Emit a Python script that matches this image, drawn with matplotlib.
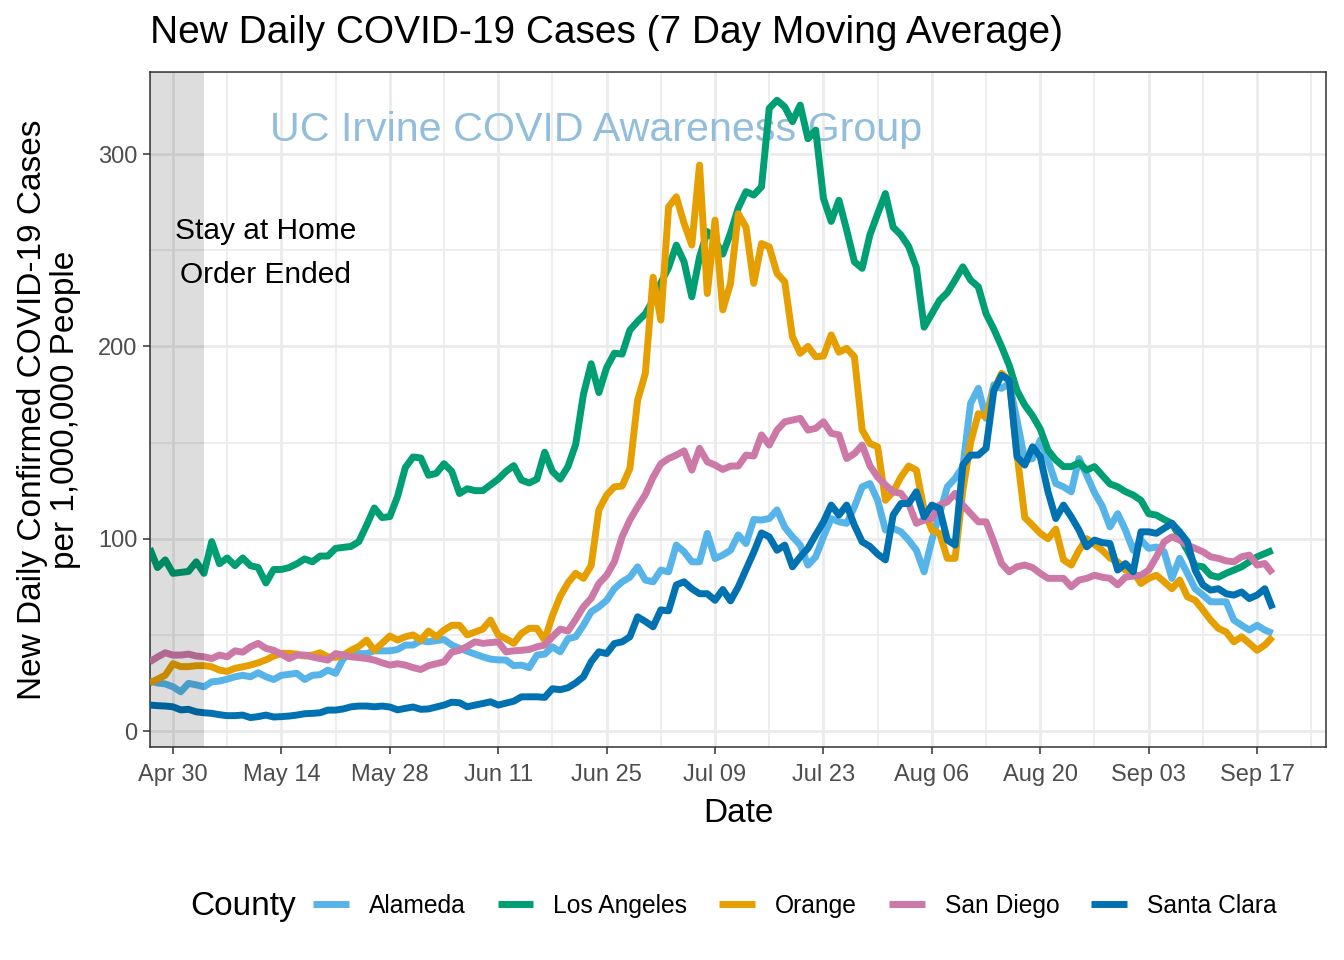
import numpy as np
import pandas as pd
import matplotlib
matplotlib.use("Agg")
import matplotlib.pyplot as plt
import matplotlib.dates as mdates
from matplotlib.lines import Line2D

plt.rcParams['font.family'] = ['Liberation Sans', 'DejaVu Sans']

# ---------------- data (daily, 2020-04-27 .. 2020-09-19) ----------------
start_date = "2020-04-27"
counties = ["Alameda", "Los Angeles", "Orange", "San Diego", "Santa Clara"]
colors = ["#56B4E9", "#009E73", "#E69F00", "#CC79A7", "#0072B2"]

alameda = [26, 25, 24.5, 23, 20.4, 24.8, 24, 23, 25.6, 26, 27, 28.2, 29, 28.2, 30.3, 28.2, 26.8, 29, 29.5, 30,
           26.8, 29, 29.3, 31.7, 30, 37.7, 40.3, 40.3, 40.3, 41.7, 41.7, 41.7, 42.4, 44.7, 44.7, 47, 46.4, 47, 47.6, 44.7,
           43, 41.5, 40, 38.6, 37.4, 37, 36.9, 34, 34.3, 33, 39.5, 40, 43.8, 41.2, 48, 49, 55, 62, 64.6, 68,
           74, 77.6, 80, 85.4, 78.5, 77.6, 83.7, 82.8, 96.7, 93.2, 88, 88, 102.8, 89.7, 91.5, 94, 102, 97.5, 110, 109.7,
           110.5, 115, 106, 101, 96.7, 86.3, 90.6, 101, 110.5, 108.8, 108, 116.6, 127, 128.7, 120, 104.5, 105.4, 103.6, 99.3, 94,
           82.8, 99.3, 113, 127, 131.4, 137.4, 170.4, 178.2, 162.6, 180, 178.2, 180.8, 161.7, 141, 141.7, 151.3, 141, 128.7, 127, 124.4,
           141.7, 133, 124, 117, 106.2, 113, 104.5, 94, 99.3, 95, 95.7, 93.2, 79.4, 89.8, 82, 74, 70.7, 67.2, 67.2, 67.2,
           57.7, 55, 52.5, 55, 52.5, 50.8]

los_angeles = [95, 85, 89, 82, 82.5, 83, 88, 82, 98.5, 87, 90, 86, 90, 86, 85, 77, 84, 84, 85, 87,
               89.5, 88, 91, 91, 95, 95.5, 96, 98.5, 107, 116, 111, 111.5, 122, 137, 142.5, 142, 133, 134, 139, 135,
               123.5, 126, 125, 125, 128, 131, 135, 138, 130.5, 129, 131, 145, 135, 131, 137.5, 149, 175, 191, 176, 189,
               196.5, 196, 208.5, 213, 217, 224, 233, 241, 252.7, 244, 225.8, 246.6, 259.7, 255, 248, 259, 272, 280.5, 278.7, 283,
               323.8, 328, 324.6, 316.9, 325.5, 308, 312.5, 277, 265, 276, 260.5, 244, 240.6, 258, 269, 279.5, 262, 258, 252, 241,
               210, 217, 224, 228, 234.5, 241.4, 234.5, 231, 217, 209, 200, 190, 177, 169.5, 164, 157, 146, 141, 137.5, 137.5,
               139.5, 135.7, 137.5, 133, 128.5, 127, 124.5, 122.7, 120, 113, 112.3, 110, 108, 101, 94, 86, 85.4, 81, 80, 82,
               83.7, 85.4, 88, 90.6, 92.3, 94]

orange = [25, 27, 29, 35, 33.5, 33.5, 34, 34, 33.4, 31.7, 31, 32.6, 33.4, 34.3, 35.5, 37, 39, 40.4, 40.4, 40,
          39, 39.5, 40.7, 38.6, 38.3, 39.5, 42, 44, 47.3, 42, 45.6, 49.4, 47.3, 49, 50, 47.3, 52, 49, 52.5, 55,
          55, 50, 51.5, 53, 57.7, 50, 48, 45.6, 50.8, 53.4, 53.4, 47.3, 60, 70, 77, 82, 79.4, 86, 115, 122.7,
          127, 127.4, 136.5, 172, 186, 236, 213.7, 272.6, 277.8, 264, 252.7, 294.3, 227.5, 265.7, 219, 232.8, 269, 262, 232.8, 253.5,
          251.8, 238, 233.6, 205, 196.4, 200, 194.6, 195, 206, 197, 199, 194.6, 156.5, 149.5, 147.8, 120, 124.4, 132, 137.8, 135.7,
          115, 104.5, 102.8, 89.8, 89.8, 125, 150, 165, 163.4, 177, 186, 182.5, 144, 111, 107, 102.8, 100, 105, 89, 86.3,
          94, 100, 97, 94, 90, 88, 83.7, 82.8, 76.7, 79.4, 81, 77.6, 74, 78.5, 69.8, 68, 63, 57.7, 53.4, 51.5,
          46.4, 49, 45.6, 42, 44.7, 49]

san_diego = [36, 38.5, 40.7, 39.5, 39.5, 40, 39, 38.6, 37.7, 39.5, 38.6, 41.7, 41, 43.8, 45.6, 43, 42, 40, 37.7, 39.5,
             39.5, 38.5, 37.7, 36.9, 40.3, 39.5, 38.6, 38.2, 37.7, 36.9, 35.5, 34.3, 35, 34.3, 33, 32, 34, 35, 36, 41,
             42, 44, 46.4, 45.6, 46, 46.4, 41.2, 41.7, 42, 42.4, 43.8, 44.7, 49, 53, 52, 58, 64.6, 69, 76.7, 81,
             88, 101, 109.7, 116.6, 123, 132, 139, 141.7, 143.5, 145.7, 135.7, 147, 140, 138.3, 136, 137.8, 137.8, 143.5, 143, 154,
             148.7, 156.5, 160.8, 161.7, 162.6, 156.5, 157.4, 160.8, 154.8, 154, 141.7, 144.3, 148.7, 138, 132, 128, 124.4, 123.6, 118.3, 108,
             109.7, 110.5, 117.5, 119.2, 123.6, 117.5, 113.1, 108.8, 108.8, 98.4, 87.1, 82.8, 85.4, 86.3, 85, 82, 79.4, 79.4, 79.4, 75,
             78.5, 79.4, 81, 80, 79.4, 76, 80, 80.6, 81, 83.7, 90.6, 98.4, 101, 99.3, 96.7, 95, 93.2, 90.6, 89.8, 88.5,
             88, 90.6, 91.5, 86.3, 87.1, 82]

santa_clara = [13.5, 13.2, 13, 12.6, 11, 11.3, 10, 9.5, 9.2, 8.5, 8, 8, 8.3, 7, 7.5, 8.3, 7.3, 7.5, 7.8, 8.3,
               9, 9.2, 9.5, 10.9, 10.9, 11.5, 12.6, 13, 13, 12.6, 13, 12.5, 11, 11.8, 12.5, 11.3, 11.5, 12.5, 13.5, 15,
               14.7, 12.6, 13.5, 14.3, 15.2, 13.5, 14.5, 15.5, 17.8, 17.8, 17.8, 17.5, 22, 21.5, 22.5, 25, 28.2, 36, 41.2, 40.3,
               45.5, 46.4, 49, 59.4, 57, 54.2, 63, 62.5, 76, 77.6, 74, 71.4, 71.4, 68, 73.6, 67.7, 75, 84, 93, 103,
               101, 94, 96.7, 85.4, 90.6, 95, 102, 108.8, 117.5, 112.3, 117.5, 107, 98.4, 96, 92, 89, 112.3, 118.3, 118.3, 124.4,
               111.4, 117.5, 115.7, 99.3, 96.7, 138.3, 143.5, 143.5, 147, 177, 185, 182.5, 142.6, 138.3, 147.8, 142.6, 124.4, 110.5, 117.5, 111.4,
               104.5, 95.8, 99.3, 98, 97.5, 83.7, 87.1, 82.8, 103.6, 103.6, 102.8, 105.4, 108, 103.6, 98.4, 83.7, 76, 73.3, 74, 71.4,
               70.7, 72.3, 68.9, 70.7, 74, 63.7]

series = [alameda, los_angeles, orange, san_diego, santa_clara]

first_tick = "2020-04-30"
last_tick = "2020-09-17"
tick_step_days = 14
order_end = "2020-05-04"
annotation_text = "Stay at Home\nOrder Ended"
annotation_pos = ("2020-05-12", 248.5)
watermark_text = "UC Irvine COVID Awareness Group"
watermark_pos = ("2020-06-23 14:00", 312.5)

# ---------------- figure ----------------
W, H = 1344, 960
fig = plt.figure(figsize=(W / 100, H / 100), dpi=100)
L, R, T, B = 150, 1326, 72, 747
ax = fig.add_axes([L / W, 1 - B / H, (R - L) / W, (B - T) / H])

dates = pd.date_range(start_date, periods=len(alameda), freq="D")
for name, col, vals in zip(counties, colors, series):
    ax.plot(dates, vals, color=col, lw=5.0, solid_capstyle="butt",
            solid_joinstyle="round", zorder=3, label=name)

t0 = pd.Timestamp(first_tick)
day = pd.Timedelta(days=1)
xmin = t0 - 2.97 * day
xmax = t0 + 148.9 * day

# ticks (set before limits so limits are not expanded)
major_ticks = pd.date_range(first_tick, last_tick, freq=f"{tick_step_days}D")
minor_ticks = pd.date_range(t0 + 7 * day, "2020-09-24", freq=f"{tick_step_days}D")
ax.set_xticks(major_ticks)
ax.set_xticks(minor_ticks, minor=True)
ax.xaxis.set_major_formatter(mdates.DateFormatter("%b %d"))
ax.set_yticks([0, 100, 200, 300])
ax.set_yticks([50, 150, 250], minor=True)
ax.set_xlim(xmin, xmax)
ax.set_ylim(-8.3, 342.7)

# shaded period
ax.axvspan(xmin, pd.Timestamp(order_end), color="black", alpha=0.135, lw=0, zorder=4)

ax.grid(which="major", color="#EBEBEB", lw=2.0, zorder=0)
ax.grid(which="minor", color="#EBEBEB", lw=1.2, zorder=0)
ax.set_axisbelow(True)
ax.tick_params(which="major", length=5, width=1.1, color="#333333",
               labelsize=17, labelcolor="#4D4D4D")
ax.tick_params(axis="x", which="major", pad=7.5)
ax.tick_params(axis="y", which="major", pad=4)
ax.tick_params(which="minor", length=0)
for sp in ax.spines.values():
    sp.set_color("#333333")
    sp.set_linewidth(1.1)

# annotation and watermark
ax.text(pd.Timestamp(annotation_pos[0]), annotation_pos[1], annotation_text,
        ha="center", va="center", fontsize=21.5, color="black", linespacing=1.75, zorder=5)
ax.text(pd.Timestamp(watermark_pos[0]), watermark_pos[1], watermark_text,
        ha="center", va="center", fontsize=29.7, color="#92BEDC", zorder=2)

# titles
fig.text(L / W, 1 - 33 / H, "New Daily COVID-19 Cases (7 Day Moving Average)",
         ha="left", va="center", fontsize=28)
fig.text(49 / W, 1 - 409.5 / H, "New Daily Confirmed COVID-19 Cases\nper 1,000,000 People",
         ha="center", va="center", rotation=90, fontsize=24, linespacing=1.1,
         multialignment="center")
fig.text(738 / W, 1 - 814 / H, "Date", ha="center", va="center", fontsize=24)

# legend
fig.text(190 / W, 1 - 907 / H, "County", ha="left", va="center", fontsize=24)
handles = [Line2D([], [], color=c, lw=5, solid_capstyle="butt") for c in colors]
fig.legend(handles, counties, loc="center left", bbox_to_anchor=(313 / W, 1 - 906 / H),
           ncol=5, frameon=False, fontsize=17.7, handlelength=1.46, handletextpad=0.81,
           columnspacing=1.3, borderpad=0, borderaxespad=0)

fig.savefig("out.png", dpi=100)
